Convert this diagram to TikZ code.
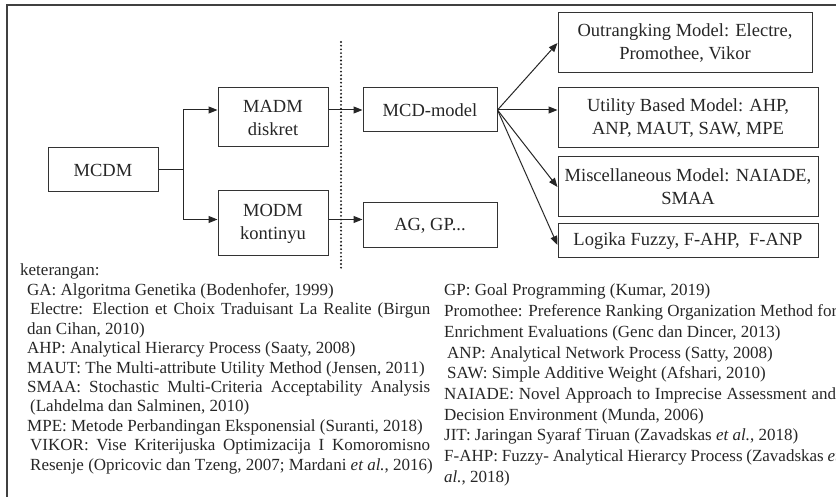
\documentclass[tikz,border=0pt]{standalone}
\usepackage{fontspec}
\setmainfont{Liberation Serif}
\usetikzlibrary{arrows.meta}

\tikzset{
  box/.style={draw=black!80, line width=1pt, inner sep=2pt, align=center, text=black!85,
    font=\fontsize{18.5}{23}\selectfont},
  arr/.style={-{Triangle[length=9pt,width=7pt]}, line width=1pt, draw=black!85},
  note/.style={anchor=base west, inner sep=0pt, text=black!85, font=\fontsize{17}{20}\selectfont}
}
\newcommand{\jline}[2][403pt]{\makebox[#1][s]{#2}}

\begin{document}
\begin{tikzpicture}[x=1pt,y=-1pt]
      \useasboundingbox (0,0) rectangle (836,497);
      \clip (0,0) rectangle (836,497);
      \draw[line width=1.2pt, black!75] (7,497) -- (7,5) -- (836,5);

      \node[box, minimum width=110pt, minimum height=44pt] (mcdm) at (103,170) {MCDM};
      \node[box, minimum width=110pt, minimum height=59pt] (madm) at (273,117.5) {MADM\\diskret};
      \node[box, minimum width=110pt, minimum height=65pt] (modm) at (273,223.5) {MODM\\kontinyu};
      \node[box, minimum width=134pt, minimum height=44pt] (mcd) at (430,110) {MCD-model};
      \node[box, minimum width=134pt, minimum height=45pt] (ag) at (430,225.5) {AG, GP...};
      \node[box, minimum width=254pt, minimum height=60pt] (outr) at (685,43) {Outrangking Model: Electre,\\Promothee, Vikor};
      \node[box, minimum width=260pt, minimum height=60pt] (util) at (688,118) {Utility Based Model: AHP,\\ANP, MAUT, SAW, MPE};
      \node[box, minimum width=260pt, minimum height=60pt] (misc) at (688,187) {Miscellaneous Model: NAIADE,\\SMAA};
      \node[box, minimum width=260pt, minimum height=34pt] (fuzzy) at (688,241) {Logika Fuzzy, F-AHP,~ F-ANP};

      \coordinate (split) at (183,170);
      \coordinate (agin) at ([yshift=6pt]ag.west);
      \coordinate (dtop) at (341,42);
      \coordinate (dbot) at (341,268);

      \draw[line width=1pt, black!85] (mcdm.east) -- (split);
      \draw[arr] (split) |- (madm.west |- mcd.west);
      \draw[arr] (split) |- (modm.west |- agin);
      \draw[arr] (madm.east |- mcd.west) -- (mcd.west);
      \draw[arr] (modm.east |- agin) -- (agin);
      \draw[arr] (mcd.east) -- (outr.west);
      \draw[arr] (mcd.east) -- (mcd.east -| util.west);
      \draw[arr] (mcd.east) -- (misc.west);
      \draw[arr] (mcd.east) -- ([yshift=-4pt]fuzzy.west);
      \draw[black!90, line width=2.1pt, line cap=round, dash pattern=on 0pt off 3.7pt] (dtop) -- (dbot);

      % keterangan
      \node[note] (l1) at (20,276) {keterangan:};
      \node[note] (l2) at (27,295.4) {GA: Algoritma Genetika (Bodenhofer, 1999)};
      \node[note] (l3) at (30,314.8) {\jline[400pt]{Electre: Election et Choix Traduisant La Realite (Birgun}};
      \node[note] (l4) at (27,334.2) {dan Cihan, 2010)};
      \node[note] (l5) at (27,353.6) {AHP: Analytical Hierarcy Process (Saaty, 2008)};
      \node[note] (l6) at (27,373) {MAUT: The Multi-attribute Utility Method (Jensen, 2011)};
      \node[note] (l7) at (27,392.4) {\jline{SMAA: Stochastic Multi-Criteria Acceptability Analysis}};
      \node[note] (l8) at (30,411.8) {(Lahdelma dan Salminen, 2010)};
      \node[note] (l9) at (27,431.2) {MPE: Metode Perbandingan Eksponensial (Suranti, 2018)};
      \node[note] (l10) at (30,450.6) {\jline[400pt]{VIKOR: Vise Kriterijuska Optimizacija I Komoromisno}};
      \node[note] (l11) at (30,470) {Resenje (Opricovic dan Tzeng, 2007; Mardani \textit{et al.}, 2016)};

      \node[note] (r1) at (444,296) {GP: Goal Programming (Kumar, 2019)};
      \node[note] (r2) at (444,316.7) {\jline[393pt]{Promothee: Preference Ranking Organization Method for}};
      \node[note] (r3) at (444,337.4) {Enrichment Evaluations (Genc dan Dincer, 2013)};
      \node[note] (r4) at (447,358.1) {ANP: Analytical Network Process (Satty, 2008)};
      \node[note] (r5) at (447,378.8) {SAW: Simple Additive Weight (Afshari, 2010)};
      \node[note] (r6) at (444,399.5) {\jline[392pt]{NAIADE: Novel Approach to Imprecise Assessment and}};
      \node[note] (r7) at (444,420.2) {Decision Environment (Munda, 2006)};
      \node[note] (r8) at (444,440.9) {JIT: Jaringan Syaraf Tiruan (Zavadskas \textit{et al.}, 2018)};
      \node[note] (r9) at (444,461.6) {\jline[396pt]{F-AHP: Fuzzy- Analytical Hierarcy Process (Zavadskas \textit{et}}};
      \node[note] (r10) at (444,482.3) {\textit{al.}, 2018)};
\end{tikzpicture}
\end{document}
